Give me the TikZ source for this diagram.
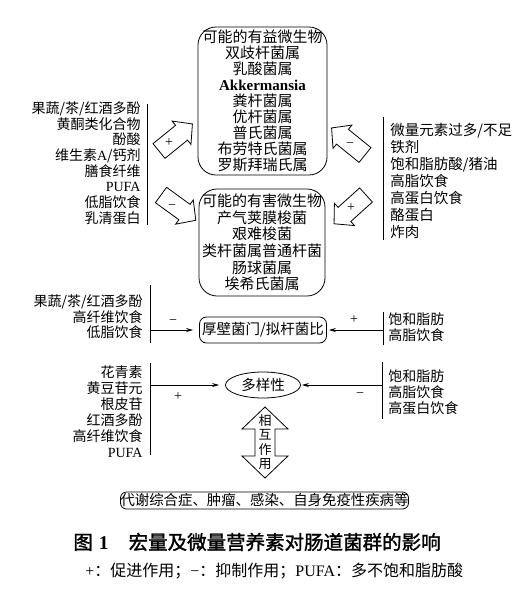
\documentclass[tikz,border=0pt]{standalone}
\usepackage{fontspec}
\setmainfont{Liberation Serif}
\newfontfamily\cjk{Noto Sans CJK SC}
\newfontfamily\cjkhei[FakeBold=1.5]{Noto Sans CJK SC}
\usetikzlibrary{shapes.geometric,arrows.meta}
\newcommand\lat[1]{{\rmfamily #1}}
\newcommand\cfont[2]{\cjk\fontsize{#1}{#2}\selectfont}

\tikzset{
  every node/.style={inner sep=0pt},
  grpbox/.style={draw,rounded corners=18pt,align=center,font=\cfont{15}{16}},
  txtl/.style={align=right,anchor=east,font=\cfont{14}{15.7}},
  txtr/.style={align=left,anchor=west,font=\cfont{14.5}{17}},
  sgn/.style={font=\rmfamily\fontsize{14}{14}\selectfont},
  fatarrow/.pic={\draw[line join=miter] (0,-9.5) -- (29,-9.5) -- (29,-15) -- (43,0)
      -- (29,15) -- (29,9.5) -- (0,9.5) -- cycle;}
}

\begin{document}
\begin{tikzpicture}[x=1pt,y=-1pt,line width=.8pt,>={Stealth[length=7pt,width=4pt]}]
  \useasboundingbox (0,0) rectangle (521,600);
  \node[grpbox,minimum width=129pt,minimum height=148pt] (good) at (262.5,101)
      {可能的有益微生物\\双歧杆菌属\\乳酸菌属\\\lat{\textbf{Akkermansia}}\\粪杆菌属\\优杆菌属\\普氏菌属\\布劳特氏菌属\\罗斯拜瑞氏属};
  \node[grpbox,minimum width=126pt,minimum height=107pt,font=\cfont{15}{16.6}] (bad) at (262,242.5)
      {可能的有害微生物\\产气荚膜梭菌\\艰难梭菌\\类杆菌属普通杆菌\\肠球菌属\\埃希氏菌属};
  \node[txtl] (lt1) at (141,163)
      {果蔬/茶/红酒多酚\\黄酮类化合物\\酚酸\\维生素\lat{A}/钙剂\\膳食纤维\\\lat{PUFA}\\低脂饮食\\乳清蛋白};
  \draw (147,104) -- (147,225);
  \node[txtr] (rt1) at (390,181)
      {微量元素过多/不足\\铁剂\\饱和脂肪酸/猪油\\高脂饮食\\高蛋白饮食\\酪蛋白\\炸肉};
  \draw (383,117) -- (383,240);
  \foreach \px/\py/\ang in {159/151/39,161/195/-36,365/155/141,366/195/222}
    \pic[rotate=\ang] at (\px,\py) {fatarrow};
  \node[sgn] (s1) at (169,143) {+};
  \node[sgn] (s2) at (172,207) {−};
  \node[sgn] (s3) at (350,145) {−};
  \node[sgn] (s4) at (351,208) {+};

  \node[draw,rounded corners=7pt,minimum width=127pt,minimum height=26pt,font=\cfont{14.5}{16}] (ratio) at (263,330) {厚壁菌门/拟杆菌比};
  \node[txtl] (lt2) at (143,317) {果蔬/茶/红酒多酚\\高纤维饮食\\低脂饮食};
  \draw (150,285) -- (150,343);
  \node[txtr,font=\cfont{14}{16}] (rt2) at (388,327) {饱和脂肪\\高脂饮食};
  \draw (383,312) -- (383,345);
  \coordinate (a1) at (150,330);
  \coordinate (a2) at (383,330);
  \draw[->,shorten >=6pt] (a1) -- (ratio);
  \draw[->,shorten >=2pt] (a2) -- (ratio);
  \node[sgn] (s5) at (173,322) {−};
  \node[sgn] (s6) at (354,320) {+};

  \node[draw,ellipse,minimum width=75pt,minimum height=26pt,font=\cfont{14.5}{16}] (div) at (263,385) {多样性};
  \node[txtl,font=\cfont{14}{16}] (lt3) at (143,412) {花青素\\黄豆苷元\\根皮苷\\红酒多酚\\高纤维饮食\\\lat{PUFA}};
  \draw (150,363) -- (150,455);
  \node[txtr,font=\cfont{14}{16}] (rt3) at (388,392) {饱和脂肪\\高脂饮食\\高蛋白饮食};
  \draw (382,362) -- (382,419);
  \coordinate (a3) at (150,385);
  \coordinate (a4) at (382,385);
  \draw[->,shorten >=6pt] (a3) -- (div);
  \draw[->,shorten >=1pt] (a4) -- (div);
  \node[sgn] (s7) at (178,397) {+};
  \node[sgn] (s8) at (360,395) {−};

  \draw[line join=miter] (265,407) -- (288,429) -- (275,429) -- (275,456) -- (288,456) -- (265,478)
      -- (242,456) -- (255,456) -- (255,429) -- (242,429) -- cycle;
  \node[align=center,font=\cfont{13}{14.5}] (mut) at (265,442) {相\\互\\作\\用};
  \node[draw,rounded corners=6pt,minimum width=283pt,minimum height=17pt,font=\cfont{14.4}{16}] (dis) at (264.5,500.5)
      {代谢综合症、肿瘤、感染、自身免疫性疾病等};

  \node[anchor=west,font=\cjkhei\fontsize{19.5}{20}\selectfont] (cap) at (73,542)
      {图\hspace{6pt}\lat{\textbf{1}}\hspace{20pt}宏量及微量营养素对肠道菌群的影响};
  \node[anchor=west,font=\cfont{16}{17}] (note) at (85,571)
      {\lat{+}：促进作用；\lat{−}：抑制作用；\lat{PUFA}：多不饱和脂肪酸};
\end{tikzpicture}
\end{document}
